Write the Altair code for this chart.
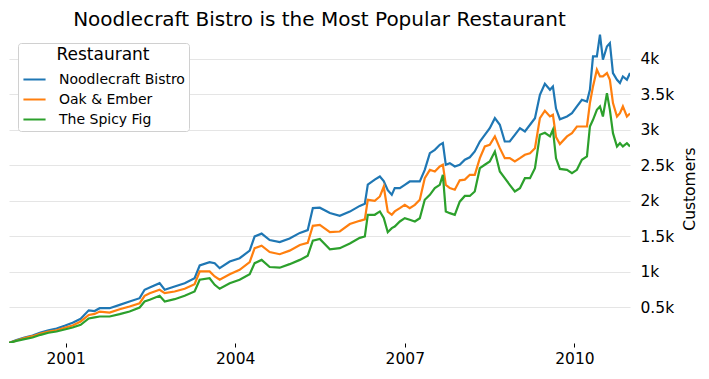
import altair as alt
import pandas as pd

dates = [
    "2000-01-01", "2000-02-18", "2000-04-10", "2000-06-01", "2000-07-23", "2000-09-12",
    "2000-11-03", "2000-12-25", "2001-02-15", "2001-04-08", "2001-05-30", "2001-07-07",
    "2001-08-09", "2001-10-12", "2001-12-16", "2002-02-18", "2002-04-24", "2002-05-26",
    "2002-06-28", "2002-08-31", "2002-10-03", "2002-12-06", "2003-02-09", "2003-04-14",
    "2003-05-17", "2003-07-20", "2003-08-22", "2003-09-23", "2003-11-27", "2004-01-30",
    "2004-04-04", "2004-05-06", "2004-06-20", "2004-08-11", "2004-10-15", "2004-12-18",
    "2005-02-22", "2005-04-14", "2005-05-17", "2005-07-01", "2005-09-04", "2005-11-07",
    "2006-01-11", "2006-03-16", "2006-04-18", "2006-05-07", "2006-06-21", "2006-07-24",
    "2006-08-18", "2006-09-13", "2006-10-09", "2006-10-28", "2006-11-30", "2007-01-01",
    "2007-02-02", "2007-03-07", "2007-04-08", "2007-05-10", "2007-06-12", "2007-07-14",
    "2007-08-15", "2007-09-04", "2007-09-23", "2007-10-19", "2007-11-20", "2007-12-22",
    "2008-01-24", "2008-02-25", "2008-03-28", "2008-04-30", "2008-06-01", "2008-07-03",
    "2008-08-05", "2008-09-06", "2008-10-08", "2008-11-09", "2008-12-12", "2009-01-14",
    "2009-02-15", "2009-03-20", "2009-04-21", "2009-05-23", "2009-06-24", "2009-07-27",
    "2009-08-15", "2009-09-04", "2009-09-29", "2009-11-14", "2009-12-16", "2010-01-17",
    "2010-02-18", "2010-03-23", "2010-04-11", "2010-05-01", "2010-05-26", "2010-06-15",
    "2010-07-04", "2010-07-30", "2010-08-18", "2010-09-07", "2010-10-03", "2010-10-22",
    "2010-11-10", "2010-12-06", "2010-12-26",
]

noodlecraft = [
    0, 40, 77, 106, 148, 180, 204, 242, 284, 341, 460, 450,
    490, 490, 537, 584, 631, 749, 781, 842, 749, 795, 842, 912,
    1091, 1138, 1124, 1053, 1147, 1194, 1300, 1500, 1540, 1450, 1420, 1470,
    1550, 1590, 1900, 1905, 1830, 1790, 1850, 1930, 1960, 2230, 2300, 2344,
    2280, 2150, 2086, 2180, 2180, 2227, 2274, 2274, 2274, 2438, 2672, 2720,
    2790, 2814, 2509, 2532, 2485, 2509, 2580, 2615, 2696, 2837, 2931, 3024,
    3165, 3072, 2837, 2837, 2931, 3024, 2978, 3072, 3165, 3494, 3650, 3565,
    3612, 3300, 3150, 3189, 3236, 3330, 3424, 3400, 3565, 4034, 4034, 4340,
    3988, 4175, 4222, 3800, 3706, 3659, 3753, 3706, 3800,
]

oak_ember = [
    0, 35, 68, 96, 134, 162, 180, 214, 246, 303, 395, 410,
    443, 429, 476, 514, 560, 664, 701, 749, 701, 725, 763, 828,
    1007, 1007, 936, 890, 969, 1030, 1140, 1335, 1370, 1280, 1250, 1300,
    1380, 1410, 1650, 1664, 1560, 1570, 1675, 1720, 1740, 2016, 2000, 2063,
    2200, 1850, 1805, 1852, 1898, 1945, 1898, 1945, 2016, 2320, 2438, 2415,
    2485, 2509, 2227, 2180, 2157, 2290, 2300, 2368, 2368, 2602, 2767, 2790,
    2908, 2743, 2602, 2602, 2556, 2602, 2650, 2672, 2743, 3165, 3270, 3189,
    3212, 2900, 2800, 2908, 2954, 3048, 3048, 3048, 3377, 3612, 3847, 3753,
    3753, 3800, 3706, 3377, 3189, 3236, 3330, 3189, 3230,
]

spicy_fig = [
    0, 30, 54, 77, 115, 144, 162, 190, 218, 256, 345, 360,
    373, 373, 406, 443, 500, 584, 608, 664, 584, 617, 664, 725,
    890, 912, 819, 763, 842, 890, 970, 1124, 1170, 1070, 1060, 1110,
    1170, 1230, 1440, 1465, 1320, 1335, 1400, 1480, 1500, 1805, 1805, 1852,
    1760, 1560, 1617, 1640, 1711, 1757, 1734, 1711, 1757, 2016, 2086, 2180,
    2227, 2368, 1852, 1828, 1805, 1990, 2070, 2070, 2133, 2461, 2509, 2556,
    2696, 2415, 2320, 2227, 2133, 2180, 2320, 2320, 2461, 2931, 2960, 2908,
    3002, 2600, 2450, 2438, 2391, 2438, 2579, 2626, 3048, 3142, 3283, 3330,
    3189, 3518, 3283, 2954, 2767, 2813, 2767, 2813, 2767,
]

restaurants = ["Noodlecraft Bistro", "Oak & Ember", "The Spicy Fig"]
colors = ["#1f77b4", "#ff7f0e", "#2ca02c"]
y_ticks = [500, 1000, 1500, 2000, 2500, 3000, 3500, 4000]

rows = []
for name, series in zip(restaurants, [noodlecraft, oak_ember, spicy_fig]):
    for d, v in zip(dates, series):
        rows.append({"date": d, "Customers": v, "Restaurant": name})
df = pd.DataFrame(rows)

FONT = "DejaVu Sans"

chart = (
    alt.Chart(df)
    .mark_line(strokeWidth=2.2, clip=True)
    .encode(
        x=alt.X(
            "date:T",
            scale=alt.Scale(type="utc", domain=[alt.DateTime(year=2000, month=1, date=1, utc=True),
                                                 alt.DateTime(year=2010, month=12, date=26, utc=True)], nice=False),
            axis=alt.Axis(
                title=None,
                values=[alt.DateTime(year=y, month=1, date=1, utc=True) for y in [2001, 2004, 2007, 2010]],
                format="%Y",
                formatType="utc",
                grid=False,
                domain=False,
                ticks=True,
                tickSize=4,
                tickColor="#000000",
                labelFontSize=15.5,
                labelColor="#000000",
                labelPadding=4,
            ),
        ),
        y=alt.Y(
            "Customers:Q",
            scale=alt.Scale(domain=[0, 4350], nice=False, zero=True),
            axis=alt.Axis(
                orient="right",
                title="Customers",
                titleAngle=270,
                titleFontSize=15.5,
                titleFontWeight="normal",
                titleColor="#000000",
                titlePadding=24,
                values=y_ticks,
                labelExpr="datum.value / 1000 + 'k'",
                labelFontSize=15.5,
                labelColor="#000000",
                labelPadding=10,
                ticks=False,
                domain=False,
                grid=True,
                gridColor="#e5e5e5",
                gridWidth=1,
            ),
        ),
        color=alt.Color(
            "Restaurant:N",
            scale=alt.Scale(domain=restaurants, range=colors),
            legend=alt.Legend(
                title="Restaurant",
                orient="none",
                legendX=9,
                legendY=9,
                titleFontSize=17,
                titleFontWeight="normal",
                titleColor="#000000",
                titleAnchor="middle",
                titlePadding=3,
                labelFontSize=14,
                labelColor="#000000",
                symbolType="stroke",
                symbolSize=490,
                symbolStrokeWidth=2,
                rowPadding=0,
                padding=4,
                fillColor="#ffffff",
                strokeColor="#d0d0d0",
                cornerRadius=3,
                labelOffset=12,
            ),
        ),
    )
    .properties(
        width=621,
        height=309,
        title=alt.Title(
            "Noodlecraft Bistro is the Most Popular Restaurant",
            fontSize=20,
            fontWeight="normal",
            color="#000000",
            anchor="middle",
            font=FONT,
            offset=4,
        ),
        padding={"left": 1, "top": 2, "right": 0, "bottom": 0},
    )
    .configure(font=FONT)
    .configure_view(stroke=None)
)

chart.save("out.html", embed_options={"renderer": "svg", "actions": False})
